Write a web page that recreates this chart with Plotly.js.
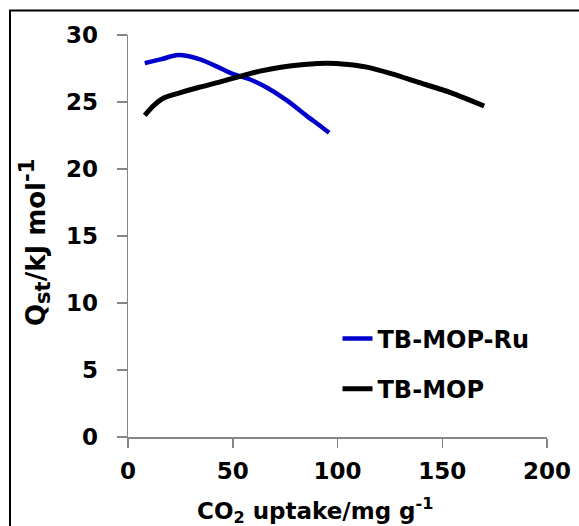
<!DOCTYPE html>
<html>
<head>
<meta charset="utf-8">
<script src="https://cdn.plot.ly/plotly-3.0.1.min.js"></script>
<style>
  html, body { margin: 0; padding: 0; background: #fff; }
  #chart { width: 579px; height: 526px; }
</style>
</head>
<body>
<div id="chart"></div>
<script>
// Data
const seriesNames = ["TB-MOP-Ru", "TB-MOP"];
const ruUptake = [8, 16, 24, 34, 43, 50, 58, 66, 76, 85, 91, 96];
const ruQst    = [27.9, 28.2, 28.5, 28.2, 27.6, 27.1, 26.7, 26.1, 25.1, 24.0, 23.3, 22.7];
const mopUptake = [8, 12, 17, 25, 34, 44, 53, 63, 73, 84, 95, 105, 114, 126, 138, 154, 170];
const mopQst    = [24.0, 24.7, 25.3, 25.7, 26.1, 26.5, 26.9, 27.3, 27.6, 27.8, 27.9, 27.8, 27.6, 27.1, 26.5, 25.7, 24.7];
const xTicks = [0, 50, 100, 150, 200];
const yTicks = [0, 5, 10, 15, 20, 25, 30];

const FONT = "DejaVu Sans, Lato, sans-serif";

const traces = [
  { x: ruUptake, y: ruQst, name: seriesNames[0], type: "scatter", mode: "lines",
    line: { color: "#0000CC", width: 4.5, shape: "spline", smoothing: 0.8 }, legendgroup: "a" },
  { x: mopUptake, y: mopQst, name: seriesNames[1], type: "scatter", mode: "lines",
    line: { color: "#000000", width: 5, shape: "spline", smoothing: 0.8 }, legendgroup: "b" }
];

const axisCommon = {
  showgrid: false, zeroline: false, showline: true,
  linecolor: "#868686", linewidth: 1.5,
  ticks: "outside", tickcolor: "#868686", tickwidth: 1.5,
  tickfont: { family: FONT, size: 23, color: "#000", weight: "bold" },
  fixedrange: true
};

const layout = {
  width: 579, height: 526,
  margin: { l: 128, r: 32, t: 35, b: 89 },
  paper_bgcolor: "#fff", plot_bgcolor: "#fff",
  font: { family: FONT, color: "#000" },
  xaxis: Object.assign({}, axisCommon, {
    range: [0, 200], tickvals: xTicks, ticktext: xTicks.map(String), ticklen: 9,
    ticklabelstandoff: 4
  }),
  yaxis: Object.assign({}, axisCommon, {
    range: [0, 30], tickvals: yTicks, ticktext: yTicks.map(String), ticklen: 10,
    ticklabelstandoff: 14
  }),
  showlegend: true,
  legend: {
    x: 0.5, xanchor: "left", y: 0.3, yanchor: "top",
    bgcolor: "rgba(0,0,0,0)", traceorder: "grouped", tracegroupgap: 16,
    font: { family: FONT, size: 24, color: "#000", weight: "bold" }
  },
  annotations: [
    { text: "Q<sub><span style='font-size:21px'>st</span></sub>/kJ mol<sup><span style='font-size:21px'>-1</span></sup>",
      xref: "paper", yref: "paper",
      x: -0.222, y: 0.485, textangle: -90, showarrow: false,
      xanchor: "center", yanchor: "middle",
      font: { family: FONT, size: 26, color: "#000", weight: "bold" } },
    { text: "CO<sub>2</sub> uptake/mg g<sup>-1</sup>", xref: "paper", yref: "paper",
      x: 0.446, y: -0.184, showarrow: false, xanchor: "center", yanchor: "middle",
      font: { family: FONT, size: 23, color: "#000", weight: "bold" } }
  ],
  shapes: [
    { type: "rect", xref: "paper", yref: "paper",
      x0: -0.2816, x1: 1.3, y0: -0.4, y1: 1.0609,
      line: { color: "#000", width: 2 }, fillcolor: "rgba(0,0,0,0)", layer: "below" }
  ]
};

Plotly.newPlot("chart", traces, layout, { displayModeBar: false, staticPlot: true });
</script>
</body>
</html>
